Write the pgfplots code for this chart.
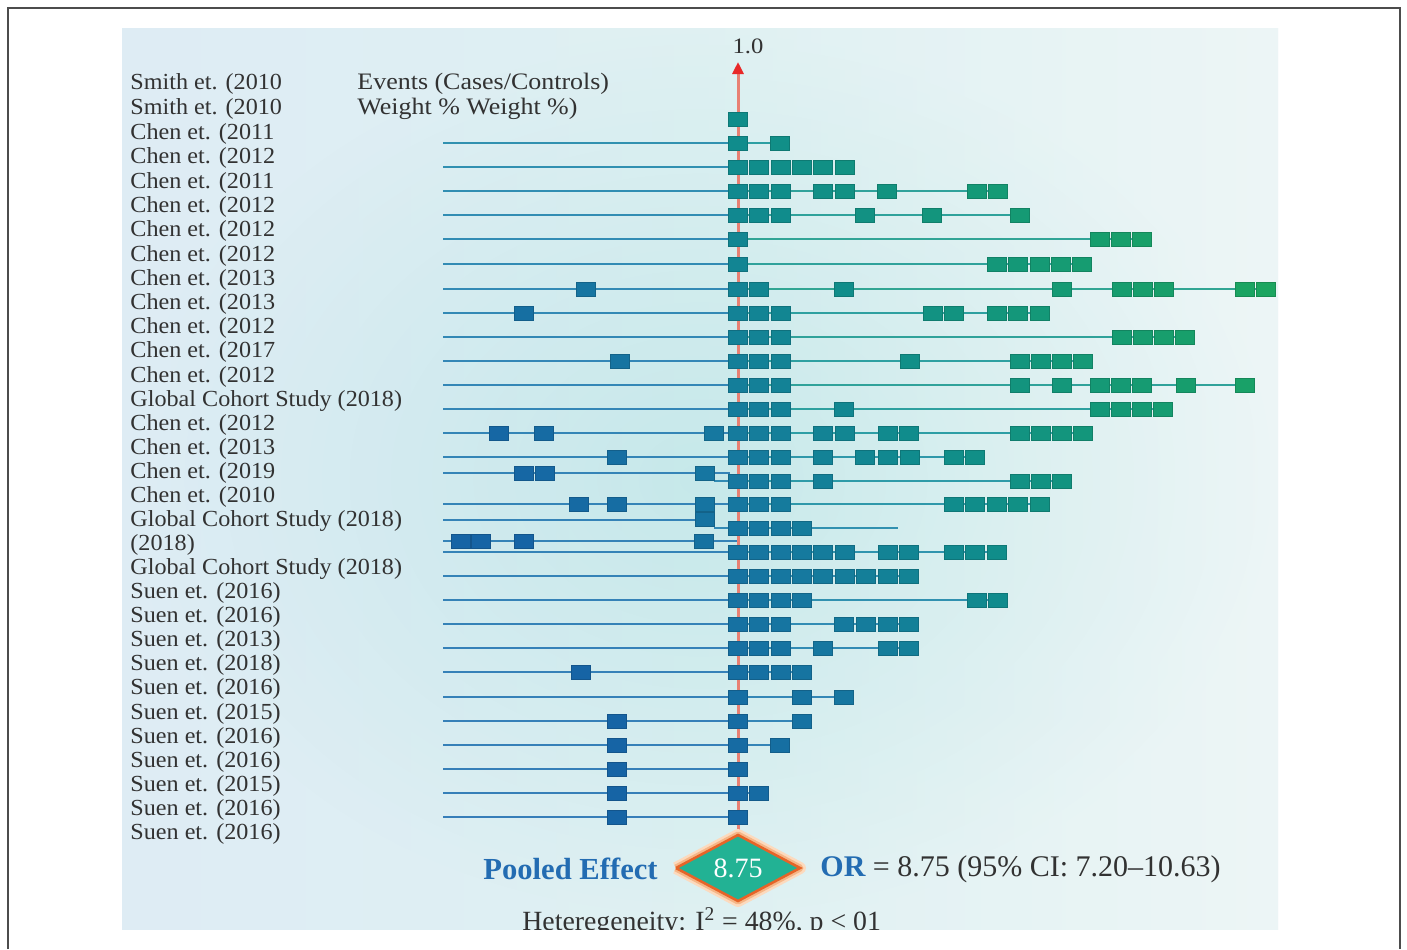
\documentclass[border=0pt]{standalone}
\usepackage{pgfplots}
\pgfplotsset{compat=1.18}
\usepackage{pgfplotstable}
\usepackage{fontspec}
\setmainfont{Liberation Serif}
\usetikzlibrary{arrows.meta}

\definecolor{txt}{RGB}{50,50,50}
\definecolor{pblue}{RGB}{35,108,178}
\definecolor{redln}{RGB}{232,128,115}
\definecolor{redar}{RGB}{232,40,40}
\definecolor{bgmid}{RGB}{198,232,234}
\definecolor{bgedge}{RGB}{240,246,248}
\definecolor{bgleft}{RGB}{196,222,240}
\definecolor{bgcen}{RGB}{198,233,234}
\definecolor{bgright}{RGB}{232,245,243}
\definecolor{dfill}{RGB}{34,178,148}
\definecolor{dedge}{RGB}{230,100,40}
\definecolor{glowa}{RGB}{252,218,190}
\definecolor{glowb}{RGB}{246,182,135}

\pgfplotsset{
  colormap={linemap}{rgb255(0pt)=(55,125,185); rgb255(250pt)=(50,140,180); rgb255(450pt)=(45,158,165); rgb255(650pt)=(50,166,145); rgb255(900pt)=(55,175,125)},
  colormap={sqmap}{rgb255(0pt)=(22,100,165); rgb255(250pt)=(22,120,160); rgb255(450pt)=(16,140,140); rgb255(650pt)=(20,152,120); rgb255(900pt)=(28,165,95)},
}

\pgfdeclareplotmark{frect}{\pgfpathrectangle{\pgfpoint{-4.85pt}{-3.6pt}}{\pgfpoint{9.7pt}{7.2pt}}\pgfusepathqfillstroke}

% squares: x = effect position, y = row (pixel rows)
\pgfplotstableread{
x y
738 119
738 143
780 143
738 167
759 167
781 167
802 167
823 167
845 167
738 191
759 191
781 191
823 191
845 191
887 191
977 191
998 191
738 215
759 215
781 215
865 215
932 215
1020 215
738 239
1100 239
1121 239
1142 239
738 264
997 264
1018 264
1040 264
1061 264
1082 264
586 289
738 289
759 289
844 289
1062 289
1122 289
1143 289
1164 289
1245 289
1266 289
524 313
738 313
759 313
781 313
933 313
954 313
997 313
1018 313
1040 313
738 337
759 337
781 337
1122 337
1143 337
1164 337
1185 337
620 361
738 361
759 361
781 361
910 361
1020 361
1041 361
1062 361
1083 361
738 385
759 385
781 385
1020 385
1062 385
1100 385
1121 385
1142 385
1186 385
1245 385
738 409
759 409
781 409
844 409
1100 409
1121 409
1142 409
1163 409
499 433
544 433
714 433
738 433
759 433
781 433
823 433
845 433
888 433
909 433
1020 433
1041 433
1062 433
1083 433
617 457
738 457
759 457
781 457
823 457
865 457
888 457
910 457
954 457
975 457
524 473
545 473
705 473
738 481
759 481
781 481
823 481
1020 481
1041 481
1062 481
579 504
617 504
705 504
738 504
759 504
781 504
954 504
975 504
997 504
1018 504
1040 504
705 519
738 528
759 528
781 528
802 528
461 541
481 541
524 541
704 541
738 552
759 552
781 552
802 552
823 552
845 552
888 552
909 552
954 552
975 552
997 552
738 576
759 576
781 576
802 576
823 576
845 576
866 576
888 576
909 576
738 600
759 600
781 600
802 600
977 600
998 600
738 624
759 624
781 624
844 624
866 624
888 624
909 624
738 648
759 648
781 648
823 648
888 648
909 648
581 672
738 672
759 672
781 672
802 672
738 697
802 697
844 697
617 721
738 721
802 721
617 745
738 745
780 745
617 769
738 769
617 793
738 793
759 793
617 817
738 817
}\sq

\newcommand\rl[3]{\addplot[mesh, line width=1.3pt, colormap name=linemap, point meta={x-0.6*y}] coordinates {(#1,#3) (738,#3) (#2,#3)};}
\newcommand\rla[3]{\addplot[mesh, line width=1.3pt, colormap name=linemap, point meta={x-0.6*y}] coordinates {(#1,#3) (#2,#3)};}
\newcommand\lab[2]{\node[anchor=west, inner sep=0pt, xscale=1.05, text=txt, font=\fontsize{11.5pt}{13pt}\selectfont] at (axis cs:130,#1+3) {#2};}

\begin{document}
\begin{tikzpicture}
\begin{axis}[
  scale only axis, width=703.5pt, height=474.5pt,
  xmin=0, xmax=1407, ymin=0, ymax=949, y dir=reverse,
  axis lines=none, ticks=none, clip=false,
  point meta min=200, point meta max=1100,
]
% background
\fill[white] (axis cs:0,0) rectangle (axis cs:1407,949);
\shade[inner color=bgmid, outer color=bgedge] (axis cs:122,28) rectangle (axis cs:1278,930);
\shade[left color=bgleft, right color=bgright, middle color=bgcen, opacity=0.4] (axis cs:122,28) rectangle (axis cs:1278,930);
\draw[line width=0.8pt, black!70] (axis cs:8,949) -- (axis cs:8,8) -- (axis cs:1400,8) -- (axis cs:1400,949);

% study lines
\rl{443}{780}{143}
\rla{443}{738}{167}
\rl{443}{998}{191}
\rl{443}{1020}{215}
\rl{443}{1142}{239}
\rl{443}{1082}{264}
\rl{443}{1266}{289}
\rl{443}{1040}{313}
\rl{443}{1185}{337}
\rl{443}{1083}{361}
\rl{443}{1245}{385}
\rl{443}{1163}{409}
\rl{443}{1083}{433}
\rl{443}{975}{457}
\rla{443}{730}{473}
\rl{714}{1062}{481}
\rl{443}{1040}{504}
\rla{443}{705}{520}
\rl{714}{898}{528}
\rla{443}{738}{541}
\rl{443}{997}{552}
\rl{443}{909}{576}
\rl{443}{998}{600}
\rl{443}{909}{624}
\rl{443}{909}{648}
\rl{443}{802}{672}
\rl{443}{844}{697}
\rl{443}{802}{721}
\rl{443}{780}{745}
\rla{443}{738}{769}
\rl{443}{759}{793}
\rla{443}{738}{817}

% reference line at 1.0
\addplot[line width=1.5pt, redln, -{Triangle[length=6pt, width=5.5pt, color=redar]}] coordinates {(738,836) (738,62)};

% study squares
\addplot[scatter, only marks, mark=frect, colormap name=sqmap,
  scatter/use mapped color={draw=mapped color!85!black, fill=mapped color},
  mark options={line width=0.3pt},
  point meta={\thisrow{x}-0.6*\thisrow{y}}] table {\sq};

% pooled diamond
\addplot[line width=6pt, glowa, line join=round] coordinates {(676,868) (738,835) (800,868) (738,901) (676,868)};
\addplot[line width=3.5pt, glowb, line join=round] coordinates {(676,868) (738,835) (800,868) (738,901) (676,868)};
\addplot[line width=1.3pt, dedge, fill=dfill, line join=miter] coordinates {(676,868) (738,835) (800,868) (738,901) (676,868)};
\node[text=white, font=\fontsize{14pt}{16pt}\selectfont] at (axis cs:738,868) {8.75};

% texts
\node[text=txt, xscale=1.12, font=\fontsize{11pt}{13pt}\selectfont] at (axis cs:748,46) {1.0};
\node[anchor=west, inner sep=0pt, xscale=1.1, text=txt, font=\fontsize{11.8pt}{13pt}\selectfont] at (axis cs:357,84) {Events (Cases/Controls)};
\node[anchor=west, inner sep=0pt, xscale=1.1, text=txt, font=\fontsize{11.8pt}{13pt}\selectfont] at (axis cs:357,109) {Weight \% Weight \%)};

\lab{81}{Smith et. (2010}
\lab{106}{Smith et. (2010}
\lab{131}{Chen et. (2011}
\lab{155}{Chen et. (2012}
\lab{180}{Chen et. (2011}
\lab{204}{Chen et. (2012}
\lab{228}{Chen et. (2012}
\lab{253}{Chen et. (2012}
\lab{277}{Chen et. (2013}
\lab{301}{Chen et. (2013}
\lab{325}{Chen et. (2012}
\lab{349}{Chen et. (2017}
\lab{374}{Chen et. (2012}
\lab{398}{Global Cohort Study (2018)}
\lab{422}{Chen et. (2012}
\lab{446}{Chen et. (2013}
\lab{470}{Chen et. (2019}
\lab{494}{Chen et. (2010}
\lab{518}{Global Cohort Study (2018)}
\lab{542}{(2018)}
\lab{566}{Global Cohort Study (2018)}
\lab{590}{Suen et. (2016)}
\lab{614}{Suen et. (2016)}
\lab{638}{Suen et. (2013)}
\lab{662}{Suen et. (2018)}
\lab{686}{Suen et. (2016)}
\lab{711}{Suen et. (2015)}
\lab{735}{Suen et. (2016)}
\lab{759}{Suen et. (2016)}
\lab{783}{Suen et. (2015)}
\lab{807}{Suen et. (2016)}
\lab{831}{Suen et. (2016)}

\node[anchor=east, inner sep=0pt, text=pblue, font=\fontsize{15.3pt}{17pt}\selectfont\bfseries] at (axis cs:658,869) {Pooled Effect};
\node[anchor=west, inner sep=0pt, text=txt, font=\fontsize{15pt}{17pt}\selectfont] at (axis cs:820,869) {\textcolor{pblue}{\bfseries OR} = 8.75 (95\% CI: 7.20--10.63)};
\node[anchor=west, inner sep=0pt, text=txt, font=\fontsize{13.9pt}{15pt}\selectfont] at (axis cs:522,922) {Heteregeneity: I\textsuperscript{2} = 48\%, p < 01};
\fill[white] (axis cs:9,930) rectangle (axis cs:1399,949);
\end{axis}
\end{tikzpicture}
\end{document}
